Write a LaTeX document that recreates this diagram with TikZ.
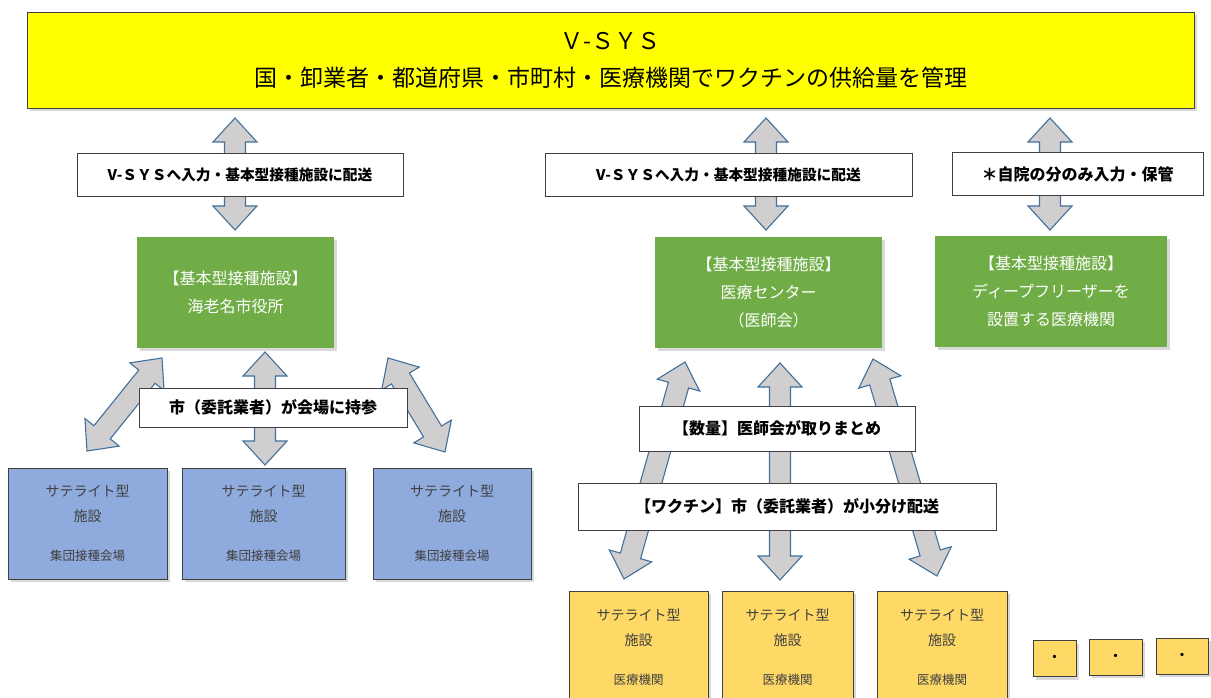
\documentclass[tikz,border=0pt]{standalone}
\usepackage{fontspec}
\setmainfont{Noto Sans CJK JP}
\usetikzlibrary{calc,shadows}

\definecolor{vsysyellow}{HTML}{FFFF00}
\definecolor{basegreen}{HTML}{70AD47}
\definecolor{satblue}{HTML}{8FAADC}
\definecolor{satyellow}{HTML}{FFD966}
\definecolor{arrowgray}{HTML}{D0CECE}
\definecolor{arrowline}{HTML}{41719C}
\definecolor{boxline}{HTML}{404040}

\tikzset{%
	shade/.style    = {drop shadow={shadow xshift=3pt, shadow yshift=-3pt, opacity=0.3}},
	vsys/.style     = {draw=boxline, thick, fill=vsysyellow, shade, align=center, inner sep=0pt,
		font=\fontsize{23}{37}\selectfont, minimum width=1167pt, minimum height=96pt},
	note/.style     = {draw=boxline, thick, fill=white, inner sep=0pt, minimum height=43pt,
		font=\bfseries\fontsize{16}{18}\selectfont}, % label on arrows
	small/.style    = {font=\bfseries\fontsize{14.7}{18}\selectfont},
	base/.style     = {fill=basegreen, shade, text=white, align=center, inner sep=0pt,
		font=\fontsize{16}{28}\selectfont, minimum height=111pt},
	sat/.style      = {draw=boxline, thick, shade, text=boxline, align=center, inner sep=0pt,
		font=\fontsize{14}{25}\selectfont},
	dotbox/.style   = {draw=boxline, thick, fill=satyellow, shade, inner sep=0pt,
		font=\bfseries\fontsize{12}{12}\selectfont, minimum height=36pt},
	fat/.style      = {draw=arrowline, fill=arrowgray, line width=1.1pt, line join=miter}
}

% double block arrow between two points
\newcommand{\dblarrow}[2]{%
	\coordinate (fa1) at ($(#1)!24pt!(#2)$);
	\coordinate (fa2) at ($(#2)!24pt!(#1)$);
	\draw[fat] (#1) -- ($(fa1)!22pt!90:(#2)$) -- ($(fa1)!10.5pt!90:(#2)$)
		-- ($(fa2)!10.5pt!-90:(#1)$) -- ($(fa2)!22pt!-90:(#1)$) -- (#2)
		-- ($(fa2)!22pt!90:(#1)$) -- ($(fa2)!10.5pt!90:(#1)$)
		-- ($(fa1)!10.5pt!-90:(#2)$) -- ($(fa1)!22pt!-90:(#2)$) -- cycle;
}

\begin{document}
\begin{tikzpicture}[x=1pt,y=-1pt]
	\useasboundingbox (0,0) rectangle (1211,698);

	% arrow ends
	\coordinate (ebinaT) at (235,118);  \coordinate (ebinaB) at (235,230);
	\coordinate (centerT) at (766,118); \coordinate (centerB) at (766,230);
	\coordinate (freezeT) at (1050,118); \coordinate (freezeB) at (1050,230);
	\coordinate (hallAT) at (162,358); \coordinate (hallAB) at (87,451);
	\coordinate (hallBT) at (265,352); \coordinate (hallBB) at (265,465);
	\coordinate (hallCT) at (388,358); \coordinate (hallCB) at (445,452);
	\coordinate (clinAT) at (685,362); \coordinate (clinAB) at (624,579);
	\coordinate (clinBT) at (780,363); \coordinate (clinBB) at (780,580);
	\coordinate (clinCT) at (873,359); \coordinate (clinCB) at (937,576);

	\dblarrow{ebinaT}{ebinaB}
	\dblarrow{centerT}{centerB}
	\dblarrow{freezeT}{freezeB}
	\dblarrow{hallAT}{hallAB}
	\dblarrow{hallBT}{hallBB}
	\dblarrow{hallCT}{hallCB}
	\dblarrow{clinAT}{clinAB}
	\dblarrow{clinBT}{clinBB}
	\dblarrow{clinCT}{clinCB}

	\node[vsys] (vsys) at (610.5,60) {Ｖ-ＳＹＳ\\国・卸業者・都道府県・市町村・医療機関でワクチンの供給量を管理};

	\node[note, small, minimum width=326pt] (toEbina) at (240,174.5) {V-ＳＹＳへ入力・基本型接種施設に配送};
	\node[note, small, minimum width=367pt] (toCenter) at (728.5,175) {V-ＳＹＳへ入力・基本型接種施設に配送};
	\node[note, minimum width=251pt] (toFreeze) at (1077.5,174) {＊自院の分のみ入力・保管};

	\node[base, minimum width=197pt] (ebina) at (235.5,292.5) {【基本型接種施設】\\海老名市役所};
	\node[base, minimum width=227pt] (center) at (768.5,292.5) {【基本型接種施設】\\医療センター\\（医師会）};
	\node[base, minimum width=232pt] (freeze) at (1051,291.5) {【基本型接種施設】\\ディープフリーザーを\\設置する医療機関};

	\node[note, minimum width=268pt, minimum height=39pt] (bring) at (273,407.5) {市（委託業者）が会場に持参};
	\node[note, minimum width=276pt, minimum height=45pt] (count) at (777,428.5) {【数量】医師会が取りまとめ};
	\node[note, minimum width=418pt, minimum height=47pt] (deliver) at (787,506.5) {【ワクチン】市（委託業者）が小分け配送};

	\node[sat, fill=satblue, minimum width=159pt, minimum height=111pt] (hallA) at (87.5,523.5)
		{サテライト型\\施設\\[14pt]{\fontsize{12.5}{25}\selectfont 集団接種会場}};
	\node[sat, fill=satblue, minimum width=163pt, minimum height=111pt] (hallB) at (263.5,523.5)
		{サテライト型\\施設\\[14pt]{\fontsize{12.5}{25}\selectfont 集団接種会場}};
	\node[sat, fill=satblue, minimum width=158pt, minimum height=111pt] (hallC) at (452,523.5)
		{サテライト型\\施設\\[14pt]{\fontsize{12.5}{25}\selectfont 集団接種会場}};

	\node[sat, fill=satyellow, minimum width=139pt, minimum height=113pt] (clinA) at (638.5,647.5)
		{サテライト型\\施設\\[14pt]{\fontsize{12.5}{25}\selectfont 医療機関}};
	\node[sat, fill=satyellow, minimum width=131pt, minimum height=113pt] (clinB) at (787.5,647.5)
		{サテライト型\\施設\\[14pt]{\fontsize{12.5}{25}\selectfont 医療機関}};
	\node[sat, fill=satyellow, minimum width=130pt, minimum height=113pt] (clinC) at (942,647.5)
		{サテライト型\\施設\\[14pt]{\fontsize{12.5}{25}\selectfont 医療機関}};

	\node[dotbox, minimum width=43pt] (more1) at (1054.5,658.5) {・};
	\node[dotbox, minimum width=53pt] (more2) at (1115.5,657) {・};
	\node[dotbox, minimum width=52pt] (more3) at (1182,656) {・};
\end{tikzpicture}
\end{document}
